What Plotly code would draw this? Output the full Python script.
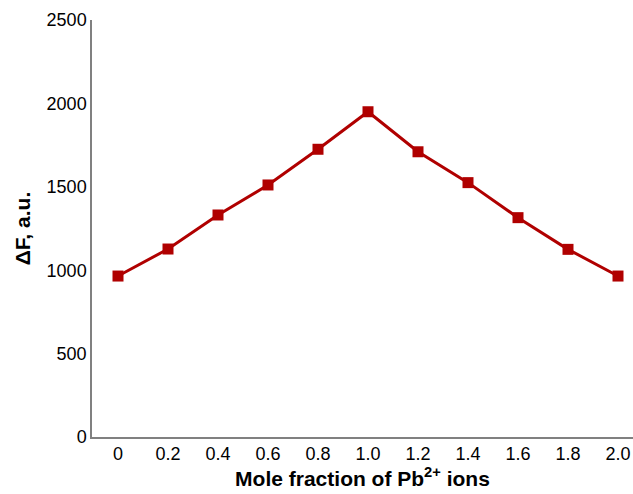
import plotly.graph_objects as go

mole_fraction = [0, 0.2, 0.4, 0.6, 0.8, 1.0, 1.2, 1.4, 1.6, 1.8, 2.0]
delta_f = [965, 1127, 1331, 1511, 1725, 1950, 1710, 1525, 1315, 1125, 965]
x_tick_labels = ["0", "0.2", "0.4", "0.6", "0.8", "1.0", "1.2", "1.4", "1.6", "1.8", "2.0"]
y_ticks = [0, 500, 1000, 1500, 2000, 2500]

FONT = "Arial, Liberation Sans, sans-serif"

fig = go.Figure()
fig.add_trace(go.Scatter(
    x=mole_fraction, y=delta_f, mode="lines+markers",
    line=dict(color="#B00000", width=3),
    marker=dict(symbol="square", size=11, color="#B00000"),
    showlegend=False,
))

fig.update_layout(
    width=633, height=494,
    margin=dict(l=92, r=0, t=20, b=57),
    paper_bgcolor="white", plot_bgcolor="white",
    font=dict(family=FONT, color="black", size=18),
    xaxis=dict(
        range=[-0.104, 2.06], tickvals=mole_fraction, ticktext=x_tick_labels,
        showgrid=False, zeroline=False, showline=True, linecolor="#808080", linewidth=1.5,
        ticks="", tickfont=dict(size=18, family=FONT, color="black"),
        title=dict(text="Mole fraction of Pb<sup>2+</sup> ions",
                   font=dict(size=21, family=FONT, weight="bold", color="black"),
                   standoff=6),
    ),
    yaxis=dict(
        range=[0, 2500], tickvals=y_ticks,
        showgrid=False, zeroline=False, showline=True, linecolor="#808080", linewidth=1.5,
        ticks="", tickfont=dict(size=18, family=FONT, color="black"),
        title=dict(text="ΔF, a.u.",
                   font=dict(size=21, family=FONT, weight="bold", color="black"),
                   standoff=10),
    ),
)

fig.write_html("out.html")
